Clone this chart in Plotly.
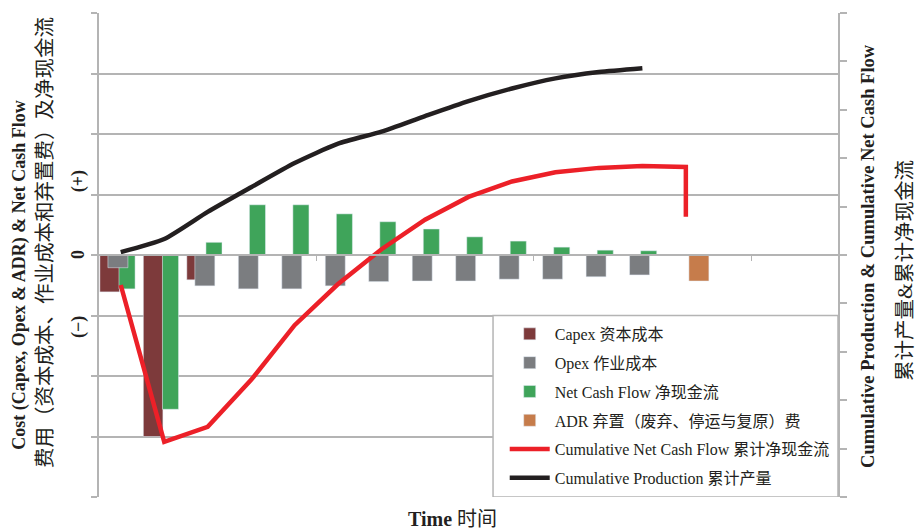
import plotly.graph_objects as go

# ---------------- data ----------------
capex_periods = [1, 2, 3]
capex_values = [-0.61, -3.0, -0.41]

opex_periods = [1, 3, 4, 5, 6, 7, 8, 9, 10, 11, 12, 13]
opex_values = [-0.21, -0.51, -0.56, -0.56, -0.51, -0.44, -0.43, -0.43, -0.40, -0.40, -0.36, -0.33]

ncf_periods = [1, 2, 3, 4, 5, 6, 7, 8, 9, 10, 11, 12, 13]
ncf_values = [-0.56, -2.55, 0.21, 0.83, 0.83, 0.68, 0.55, 0.43, 0.30, 0.23, 0.13, 0.08, 0.07]

adr_periods = [14]
adr_values = [-0.43]

cum_ncf_periods = [1, 2, 3, 4, 5, 6, 7, 8, 9, 10, 11, 12, 13, 14, 14]
cum_ncf_values = [-0.62, -3.86, -3.55, -2.58, -1.45, -0.60, 0.12, 0.73, 1.20, 1.52, 1.71, 1.80, 1.84, 1.82, 0.79]

cum_prod_periods = [1, 2, 3, 4, 5, 6, 7, 8, 9, 10, 11, 12, 13]
cum_prod_values = [0.06, 0.33, 0.89, 1.40, 1.90, 2.30, 2.55, 2.87, 3.18, 3.44, 3.65, 3.78, 3.86]

names = {
    "capex": "Capex 资本成本",
    "opex": "Opex 作业成本",
    "ncf": "Net Cash Flow 净现金流",
    "adr": "ADR 弃置（废弃、停运与复原）费",
    "cumncf": "Cumulative Net Cash Flow 累计净现金流",
    "cumprod": "Cumulative Production 累计产量",
}

# ---------------- styles ----------------
C_CAPEX = "#7d3a3b"
C_OPEX = "#7b7d80"
C_NCF = "#3fa45a"
C_ADR = "#c67c4b"
C_RED = "#ec2028"
C_BLACK = "#231f20"
GRID = "#b4b4b4"
FONT = "Liberation Serif, Noto Sans CJK SC, serif"

fig = go.Figure()

fig.add_trace(go.Bar(x=capex_periods, y=capex_values, name=names["capex"], marker_color=C_CAPEX,
                     offset=-0.48, width=0.45, legendgroup="a", legendrank=1))
fig.add_trace(go.Bar(x=ncf_periods, y=ncf_values, name=names["ncf"], marker_color=C_NCF,
                     offset=-0.04, width=0.37, legendgroup="c", legendrank=3))
fig.add_trace(go.Bar(x=opex_periods, y=opex_values, name=names["opex"], marker_color=C_OPEX,
                     offset=-0.295, width=0.46, legendgroup="b", legendrank=2))
fig.add_trace(go.Bar(x=adr_periods, y=adr_values, name=names["adr"], marker_color=C_ADR,
                     offset=0.07, width=0.46, legendgroup="d", legendrank=4))
fig.add_trace(go.Scatter(x=cum_ncf_periods, y=cum_ncf_values, name=names["cumncf"], mode="lines",
                         line=dict(color=C_RED, width=4.5),
                         yaxis="y2", legendgroup="e", legendrank=5))
fig.add_trace(go.Scatter(x=cum_prod_periods, y=cum_prod_values, name=names["cumprod"], mode="lines",
                         line=dict(color=C_BLACK, width=4.5, shape="spline", smoothing=0.6),
                         yaxis="y2", legendgroup="f", legendrank=6))

fig.update_layout(
    width=915, height=530,
    margin=dict(l=99, r=77, t=13, b=33),
    paper_bgcolor="white", plot_bgcolor="white",
    barmode="overlay",
    font=dict(family=FONT, size=16, color="#231f20"),
    showlegend=True,
    legend=dict(x=0.549, y=0.372, xanchor="left", yanchor="top",
                bgcolor="rgba(0,0,0,0)", borderwidth=0,
                font=dict(family=FONT, size=16, color="#231f20"),
                tracegroupgap=5, itemwidth=40),
    xaxis=dict(range=[0.5, 17.5], anchor="free", position=0.5,
               showline=True, linecolor=GRID, linewidth=1.5,
               tickvals=[5.5, 10.5, 15.5], ticks="outside", ticklen=5, tickcolor=GRID,
               showticklabels=False, showgrid=False, zeroline=False),
    yaxis=dict(range=[-4, 4], tickvals=[-4, -3, -2, -1, 0, 1, 2, 3, 4], showticklabels=False,
               ticks="outside", ticklen=6, tickcolor=GRID, tickwidth=1.5,
               showgrid=True, gridcolor=GRID, gridwidth=1.5,
               showline=True, linecolor=GRID, linewidth=1.5, zeroline=False),
    yaxis2=dict(range=[-5, 5], tickvals=[-5, -4, -3, -2, -1, 0, 1, 2, 3, 4, 5], showticklabels=False,
                overlaying="y", side="right", ticks="outside", ticklen=7, tickcolor=GRID, tickwidth=1.5,
                showgrid=False, showline=True, linecolor=GRID, linewidth=1.5, zeroline=False),
)

# legend frame (covers the lower-right cell of the plot)
fig.add_shape(type="rect", xref="paper", yref="y", x0=0.5332, x1=1.0, y0=-4, y1=-1,
              fillcolor="white", line=dict(color=GRID, width=1.5), layer="above")

A = dict(showarrow=False, xanchor="center", yanchor="middle")
ann = []
ann.append(dict(text="<b>Cost (Capex, Opex &amp; ADR) &amp; Net Cash Flow</b>", xref="paper", yref="paper",
                x=-0.107, y=0.459, textangle=-90, font=dict(size=18), **A))
ann.append(dict(text="费用（资本成本、作业成本和弃置费）及净现金流", xref="paper", yref="paper",
                x=-0.073, y=0.525, textangle=-90, font=dict(size=20.5), **A))
ann.append(dict(text="<b>(+)</b>", xref="paper", yref="y", x=-0.0284, y=1.22, textangle=-90,
                font=dict(size=18), **A))
ann.append(dict(text="<b>0</b>", xref="paper", yref="y", x=-0.0284, y=0, textangle=-90,
                font=dict(size=18), **A))
ann.append(dict(text="<b>(−)</b>", xref="paper", yref="y", x=-0.0284, y=-1.19, textangle=-90,
                font=dict(size=18), **A))
ann.append(dict(text="<b>Cumulative Production &amp; Cumulative Net Cash Flow</b>", xref="paper", yref="paper",
                x=1.0406, y=0.498, textangle=-90, font=dict(size=18.5), **A))
ann.append(dict(text="累计产量&amp;累计净现金流", xref="paper", yref="paper",
                x=1.0907, y=0.467, textangle=-90, font=dict(size=20.5), **A))
ann.append(dict(text="<b>Time</b> 时间", xref="paper", yref="paper",
                x=0.4777, y=-0.0455, font=dict(size=20), **A))
fig.update_layout(annotations=ann)

fig.write_html("out.html")
